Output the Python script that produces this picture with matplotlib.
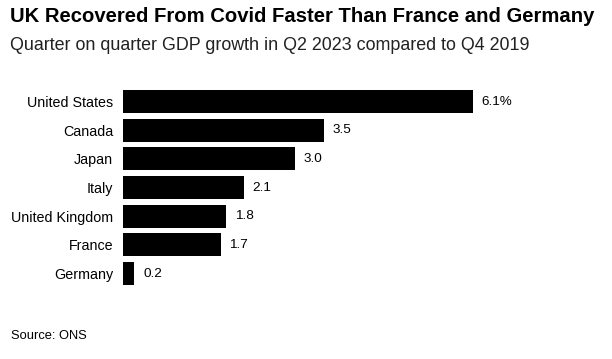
import matplotlib
matplotlib.use('Agg')
import matplotlib.pyplot as plt

countries = ['United States', 'Canada', 'Japan', 'Italy', 'United Kingdom', 'France', 'Germany']
growth = [6.1, 3.5, 3.0, 2.1, 1.8, 1.7, 0.2]
labels = ['6.1%', '3.5', '3.0', '2.1', '1.8', '1.7', '0.2']

plt.rcParams['font.family'] = ['Liberation Sans', 'DejaVu Sans']

fig = plt.figure(figsize=(6.12, 3.59), dpi=100)
ax = fig.add_axes([123 / 612, 0.198, 477 / 612, 0.559])

ypos = range(len(countries))
ax.barh(ypos, growth, height=0.8, color='black')
for y, v, lab in zip(ypos, growth, labels):
    ax.text(v + 0.15, y, lab, va='center', ha='left', fontsize=9.7, color='black')

ax.set_xlim(0, 8.31)
ax.set_ylim(6.5, -0.5)
ax.set_yticks(list(ypos))
ax.set_yticklabels(countries, fontsize=10.3)
ax.tick_params(axis='y', length=0, pad=7)
ax.set_xticks([])
for s in ax.spines.values():
    s.set_visible(False)

fig.text(10 / 612, 1 - 17 / 359, 'UK Recovered From Covid Faster Than France and Germany',
         fontsize=14.6, fontweight='bold', va='center', ha='left')
fig.text(10 / 612, 1 - 45 / 359, 'Quarter on quarter GDP growth in Q2 2023 compared to Q4 2019',
         fontsize=12.9, va='center', ha='left', color='#222222')
fig.text(11 / 612, 1 - 336 / 359, 'Source: ONS', fontsize=9.3, va='center', ha='left')

fig.savefig('out.png', dpi=100)
